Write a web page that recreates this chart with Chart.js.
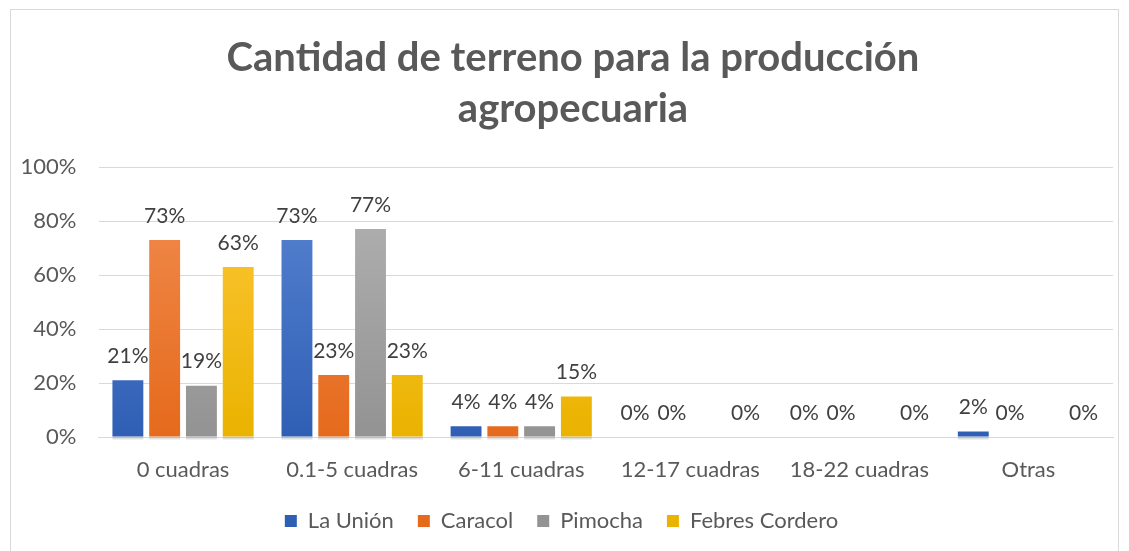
<!DOCTYPE html>
<html>
<head>
<meta charset="utf-8">
<script src="https://cdn.jsdelivr.net/npm/chart.js@4.4.1/dist/chart.umd.min.js"></script>
<style>
  html, body { margin: 0; padding: 0; background: #fff; }
  #wrap { position: absolute; left: 0; top: 0; width: 1129px; height: 551px; }
  #frame { position: absolute; left: 10px; top: 9px; width: 1107px; height: 560px; border: 1px solid #d9d9d9; }
</style>
</head>
<body>
<div id="wrap">
  <div id="frame"></div>
  <canvas id="chart" width="1129" height="551"></canvas>
</div>
<script>
const categories = ['0 cuadras', '0.1-5 cuadras', '6-11 cuadras', '12-17 cuadras', '18-22 cuadras', 'Otras'];
const laUnion = [21, 73, 4, 0, 0, 2];
const caracol = [73, 23, 4, 0, 0, 0];
const pimocha = [19, 77, 4, null, null, null];
const febresCordero = [63, 23, 15, 0, 0, 0];
const yTicks = [0, 20, 40, 60, 80, 100];

const FONT = 'Lato, "Open Sans", sans-serif';

// light top, darker bottom, like the office gradient fill
function gradient(top, bottom) {
    return function(context) {
        const area = context.chart.chartArea;
        if (!area) return bottom;
        const g = context.chart.ctx.createLinearGradient(0, area.top, 0, area.bottom);
        g.addColorStop(0, top);
        g.addColorStop(1, bottom);
        return g;
    };
}

const titlePlugin = {
    id: 'twoLineTitle',
    afterDraw(chart) {
        const c = chart.ctx;
        c.save();
        c.fillStyle = '#595959';
        c.font = 'bold 40px ' + FONT;
        c.textAlign = 'center';
        c.textBaseline = 'middle';
        c.fillText('Cantidad de terreno para la producción', 573, 58);
        c.fillText('agropecuaria', 573, 109);
        c.restore();
    }
};

// soft shadow under each bar, then the value above it
const barLabels = {
    id: 'barLabels',
    beforeDatasetsDraw(chart) {
        const c = chart.ctx;
        c.save();
        c.fillStyle = 'rgba(0,0,0,0.12)';
        chart.data.datasets.forEach((ds, i) => {
            chart.getDatasetMeta(i).data.forEach((bar, j) => {
                if (ds.data[j] === null || ds.data[j] === 0) return;
                const w = bar.width;
                c.fillRect(bar.x - w / 2, bar.base, w, 3);
            });
        });
        c.restore();
    },
    afterDatasetsDraw(chart) {
        const c = chart.ctx;
        c.save();
        c.fillStyle = '#404040';
        c.font = '21px ' + FONT;
        c.textAlign = 'center';
        c.textBaseline = 'middle';
        chart.data.datasets.forEach((ds, i) => {
            chart.getDatasetMeta(i).data.forEach((bar, j) => {
                const v = ds.data[j];
                if (v === null || v === undefined) return;
                c.fillText(v + '%', bar.x, bar.y - 24);
            });
        });
        c.restore();
    }
};

const ctx = document.getElementById('chart').getContext('2d');
const chart = new Chart(ctx, {
    type: 'bar',
    data: {
        labels: categories,
        datasets: [
            { label: 'La Unión', data: laUnion, backgroundColor: gradient('#5b86d3', '#2f5fb5') },
            { label: 'Caracol', data: caracol, backgroundColor: gradient('#f28e52', '#e56a1c') },
            { label: 'Pimocha', data: pimocha, backgroundColor: gradient('#b4b4b4', '#939393') },
            { label: 'Febres Cordero', data: febresCordero, backgroundColor: gradient('#ffc83d', '#eab300') }
        ]
    },
    options: {
        responsive: false,
        animation: false,
        devicePixelRatio: 1,
        categoryPercentage: 0.87,
        barPercentage: 0.84,
        layout: { padding: { left: 10, right: 16, top: 167, bottom: 9 } },
        plugins: {
            legend: {
                position: 'bottom',
                labels: {
                    font: { family: FONT, size: 22 },
                    color: '#595959',
                    boxWidth: 12,
                    boxHeight: 12,
                    padding: 24
                }
            },
            tooltip: { enabled: false }
        },
        scales: {
            x: {
                grid: { display: false, drawTicks: false },
                border: { color: '#d9d9d9', width: 1 },
                ticks: { font: { family: FONT, size: 22 }, color: '#595959', padding: 20 },
                afterFit(s) { s.height = 49; }
            },
            y: {
                min: 0,
                max: 100,
                afterBuildTicks(s) { s.ticks = yTicks.map(v => ({ value: v })); },
                grid: { color: '#d9d9d9', drawTicks: false },
                border: { display: false },
                ticks: {
                    font: { family: FONT, size: 22 },
                    color: '#595959',
                    padding: 22,
                    callback: v => v + '%'
                },
                afterFit(s) { s.width = 88.5; }
            }
        }
    },
    plugins: [titlePlugin, barLabels]
});
</script>
</body>
</html>
